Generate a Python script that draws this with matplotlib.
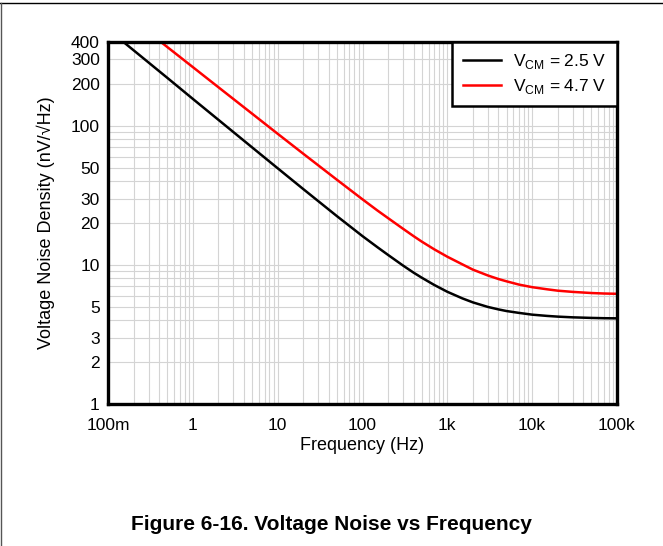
import matplotlib
matplotlib.use("Agg")
import matplotlib.pyplot as plt
from matplotlib.lines import Line2D
from matplotlib.ticker import FixedLocator, FixedFormatter, NullFormatter

plt.rcParams['font.family'] = ['Liberation Sans', 'DejaVu Sans']
plt.rcParams['mathtext.fontset'] = 'custom'
plt.rcParams['mathtext.rm'] = 'Liberation Sans'

# values (Hz, nV/rtHz)
freq = [0.1, 0.2, 0.5, 1, 2, 5, 10, 20, 50, 100, 150, 200, 300, 400, 500, 700,
        1e3, 1.5e3, 2e3, 3e3, 4e3, 5e3, 7e3, 1e4, 1.5e4, 2e4, 3e4, 5e4, 7e4, 1e5]
noise_25 = [493, 349, 221, 156, 110.4, 69.9, 49.5, 35.1, 22.4, 16.1, 13.4, 11.8,
            9.9, 8.8, 8.09, 7.18, 6.41, 5.75, 5.38, 4.99, 4.79, 4.66, 4.52,
            4.39, 4.30, 4.25, 4.20, 4.16, 4.14, 4.13]
noise_47 = [800, 572, 368, 264, 189.3, 122.1, 87.6, 63.0, 40.9, 29.6, 24.6, 21.7,
            18.2, 16.1, 14.7, 12.95, 11.45, 10.1, 9.25, 8.4, 7.92, 7.62, 7.22,
            6.92, 6.68, 6.53, 6.4, 6.28, 6.23, 6.2]

xticks = [0.1, 1, 10, 100, 1e3, 1e4, 1e5]
xlabels = ['100m', '1', '10', '100', '1k', '10k', '100k']
yticks = [1, 2, 3, 5, 10, 20, 30, 50, 100, 200, 300, 400]
ylabels = ['1', '2', '3', '5', '10', '20', '30', '50', '100', '200', '300', '400']

fig = plt.figure(figsize=(6.63, 5.46), dpi=100)
ax = fig.add_axes([0.163, 0.26, 0.7676, 0.663])

ax.plot(freq, noise_25, color='black', lw=1.8, label=r'V$_\mathregular{CM}$ = 2.5 V')
ax.plot(freq, noise_47, color='#ff0000', lw=1.8, label=r'V$_\mathregular{CM}$ = 4.7 V')

ax.set_xscale('log')
ax.set_yscale('log')
ax.set_xlim(0.1, 1e5)
ax.set_ylim(1, 400)

ax.xaxis.set_major_locator(FixedLocator(xticks))
ax.xaxis.set_major_formatter(FixedFormatter(xlabels))
ax.xaxis.set_minor_formatter(NullFormatter())
ax.yaxis.set_major_locator(FixedLocator(yticks))
ax.yaxis.set_major_formatter(FixedFormatter(ylabels))
ax.yaxis.set_minor_formatter(NullFormatter())
ax.tick_params(which='both', length=0, labelsize=12.5)
ax.tick_params(axis='x', pad=10)
ax.tick_params(axis='y', pad=6)

ax.grid(True, which='both', color='#d4d4d4', lw=0.8)
ax.set_axisbelow(True)
for s in ax.spines.values():
    s.set_linewidth(2.4)
    s.set_color('black')

ax.set_xlabel('Frequency (Hz)', fontsize=13, labelpad=3)
ax.set_ylabel('Voltage Noise Density (nV/\u221aHz)', fontsize=13, labelpad=11)

leg = ax.legend(loc='upper right', borderaxespad=0, fancybox=False, fontsize=12.5,
                handlelength=2.2, handletextpad=0.7, borderpad=0.6,
                labelspacing=0.3, framealpha=1)
leg.get_frame().set_edgecolor('black')
leg.get_frame().set_linewidth(1.8)

# page border lines
fig.add_artist(Line2D([0, 1], [1 - 3 / 546, 1 - 3 / 546], color='black', lw=1,
                      transform=fig.transFigure))
fig.add_artist(Line2D([0.7 / 663, 0.7 / 663], [0, 1 - 3 / 546], color='#555555', lw=1,
                      transform=fig.transFigure))

fig.text(0.5, 1 - 524 / 546, 'Figure 6-16. Voltage Noise vs Frequency',
         ha='center', va='center', fontsize=15, fontweight='bold')

fig.savefig('out.png', dpi=100)
